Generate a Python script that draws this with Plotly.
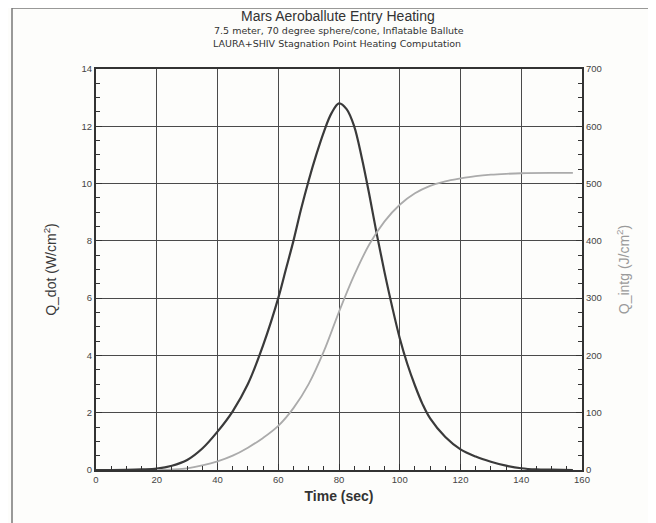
import plotly.graph_objects as go

# ---- data ----
time_qdot = [0, 5, 10, 15, 20, 25, 30, 35, 40, 45, 50, 55, 60, 62.5, 65, 67.5, 70, 72.5, 75, 77.5,
             80, 82.5, 85, 87.5, 90, 92.5, 95, 97.5, 100, 102.5, 105, 107.5, 110, 115, 120, 125,
             130, 135, 140, 145, 150, 157]
q_dot = [0, 0, 0.005, 0.02, 0.05, 0.15, 0.35, 0.75, 1.34, 2.05, 3.0, 4.35, 6.0, 7.0, 8.0, 9.1, 10.1,
         11.0, 11.8, 12.45, 12.8, 12.6, 12.0, 10.9, 9.6, 8.2, 6.9, 5.7, 4.6, 3.7, 2.95, 2.3, 1.8,
         1.15, 0.72, 0.47, 0.29, 0.15, 0.06, 0.02, 0.01, 0]

time_qint = [20, 25, 30, 35, 40, 45, 50, 55, 60, 65, 70, 75, 80, 85, 90, 95, 100, 105, 110, 115,
             120, 125, 130, 135, 140, 150, 157]
q_int = [0, 1, 3, 8, 15, 25, 39, 56, 77, 108, 150, 207, 276, 340, 394, 434, 463, 483, 496, 504,
         509, 513, 515.5, 517, 518, 518.5, 518.5]

x_ticks = [0, 20, 40, 60, 80, 100, 120, 140, 160]
y_left_ticks = [0, 2, 4, 6, 8, 10, 12, 14]
y_right_ticks = [0, 100, 200, 300, 400, 500, 600, 700]

title_lines = ["Mars Aeroballute Entry Heating",
               "7.5 meter, 70 degree sphere/cone, Inflatable Ballute",
               "LAURA+SHIV Stagnation Point Heating Computation"]

FONT = "Liberation Sans"
DARK = "#3a3a3a"
LIGHT = "#ababab"
GRID = "#4a4a4a"

fig = go.Figure()
fig.add_trace(go.Scatter(x=time_qdot, y=q_dot, mode="lines", line=dict(color=DARK, width=2.2),
                         line_shape="spline", showlegend=False, yaxis="y"))
fig.add_trace(go.Scatter(x=time_qint, y=q_int, mode="lines", line=dict(color=LIGHT, width=1.8),
                         line_shape="spline", showlegend=False, yaxis="y2"))

# page has an 8px body margin, so the figure is drawn from (8, 8)
OFF = 8
W, H = 656 - OFF, 523 - OFF
L, R, T, B = 96 - OFF, 74, 69 - OFF, 53
pw = W - L - R
ph = H - T - B

def px(x):
    return (x - OFF - L) / pw

def py(y):
    return (H - B - (y - OFF)) / ph

fig.update_layout(
    width=W, height=H,
    margin=dict(l=L, r=R, t=T, b=B, autoexpand=False),
    paper_bgcolor="#fdfdfb", plot_bgcolor="#fdfdfb",
    font=dict(family=FONT, color="#333333"),
    xaxis=dict(range=[0, 160], tickvals=x_ticks, ticktext=[str(v) for v in x_ticks],
               showgrid=True, gridcolor=GRID, gridwidth=1.4, zeroline=False, automargin=False,
               showline=True, linecolor="#333333", linewidth=2, mirror=True,
               ticks="inside", ticklen=6, tickwidth=1.3, tickcolor="#333333",
               minor=dict(dtick=5, ticks="inside", ticklen=4, tickcolor="#333333", showgrid=False),
               tickfont=dict(size=9.5, color="#444444"),
               title=dict(text="<b>Time (sec)</b>", font=dict(size=14, color="#333333"), standoff=7)),
    yaxis=dict(range=[0, 14], tickvals=y_left_ticks, ticktext=[str(v) for v in y_left_ticks],
               showgrid=True, gridcolor=GRID, gridwidth=1.4, zeroline=False, automargin=False,
               showline=True, linecolor="#333333", linewidth=2,
               ticks="inside", ticklen=6, tickwidth=1.3, tickcolor="#333333",
               minor=dict(dtick=0.5, ticks="inside", ticklen=4, tickcolor="#333333", showgrid=False),
               tickfont=dict(size=9.5, color="#444444"),
               title=dict(text="Q_dot (W/cm<sup>2</sup>)", font=dict(size=14, color="#3a3a3a"), standoff=22)),
    yaxis2=dict(range=[0, 700], tickvals=y_right_ticks, ticktext=[str(v) for v in y_right_ticks],
                overlaying="y", side="right", showgrid=False, zeroline=False, automargin=False,
                showline=True, linecolor="#333333", linewidth=2,
                ticks="inside", ticklen=6, tickwidth=1.3, tickcolor="#333333",
                minor=dict(dtick=25, ticks="inside", ticklen=4, tickcolor="#333333"),
                tickfont=dict(size=9.5, color="#444444"),
                title=dict(text="Q_intg (J/cm<sup>2</sup>)", font=dict(size=14, color="#9a9a9a"), standoff=18)),
)

ann = []
ann.append(dict(text=title_lines[0], x=px(338), y=py(16), xref="paper", yref="paper",
                xanchor="center", yanchor="middle",
                showarrow=False, font=dict(size=14, color="#333333", family=FONT)))
ann.append(dict(text=title_lines[1], x=px(339), y=py(31), xref="paper", yref="paper",
                xanchor="center", yanchor="middle",
                showarrow=False, font=dict(size=9.5, color="#333333", family="DejaVu Sans")))
ann.append(dict(text=title_lines[2], x=px(337), y=py(43), xref="paper", yref="paper",
                xanchor="center", yanchor="middle",
                showarrow=False, font=dict(size=9.5, color="#333333", family="DejaVu Sans")))
fig.update_layout(annotations=ann)

fig.update_layout(shapes=[
    dict(type="line", xref="paper", yref="paper", x0=px(12), x1=px(12), y0=py(8), y1=py(523),
         line=dict(color="#777777", width=1.5)),
    dict(type="line", xref="paper", yref="paper", x0=px(12), x1=px(650), y0=py(8), y1=py(8),
         line=dict(color="#777777", width=1.5)),
])

fig.write_html("out.html")
